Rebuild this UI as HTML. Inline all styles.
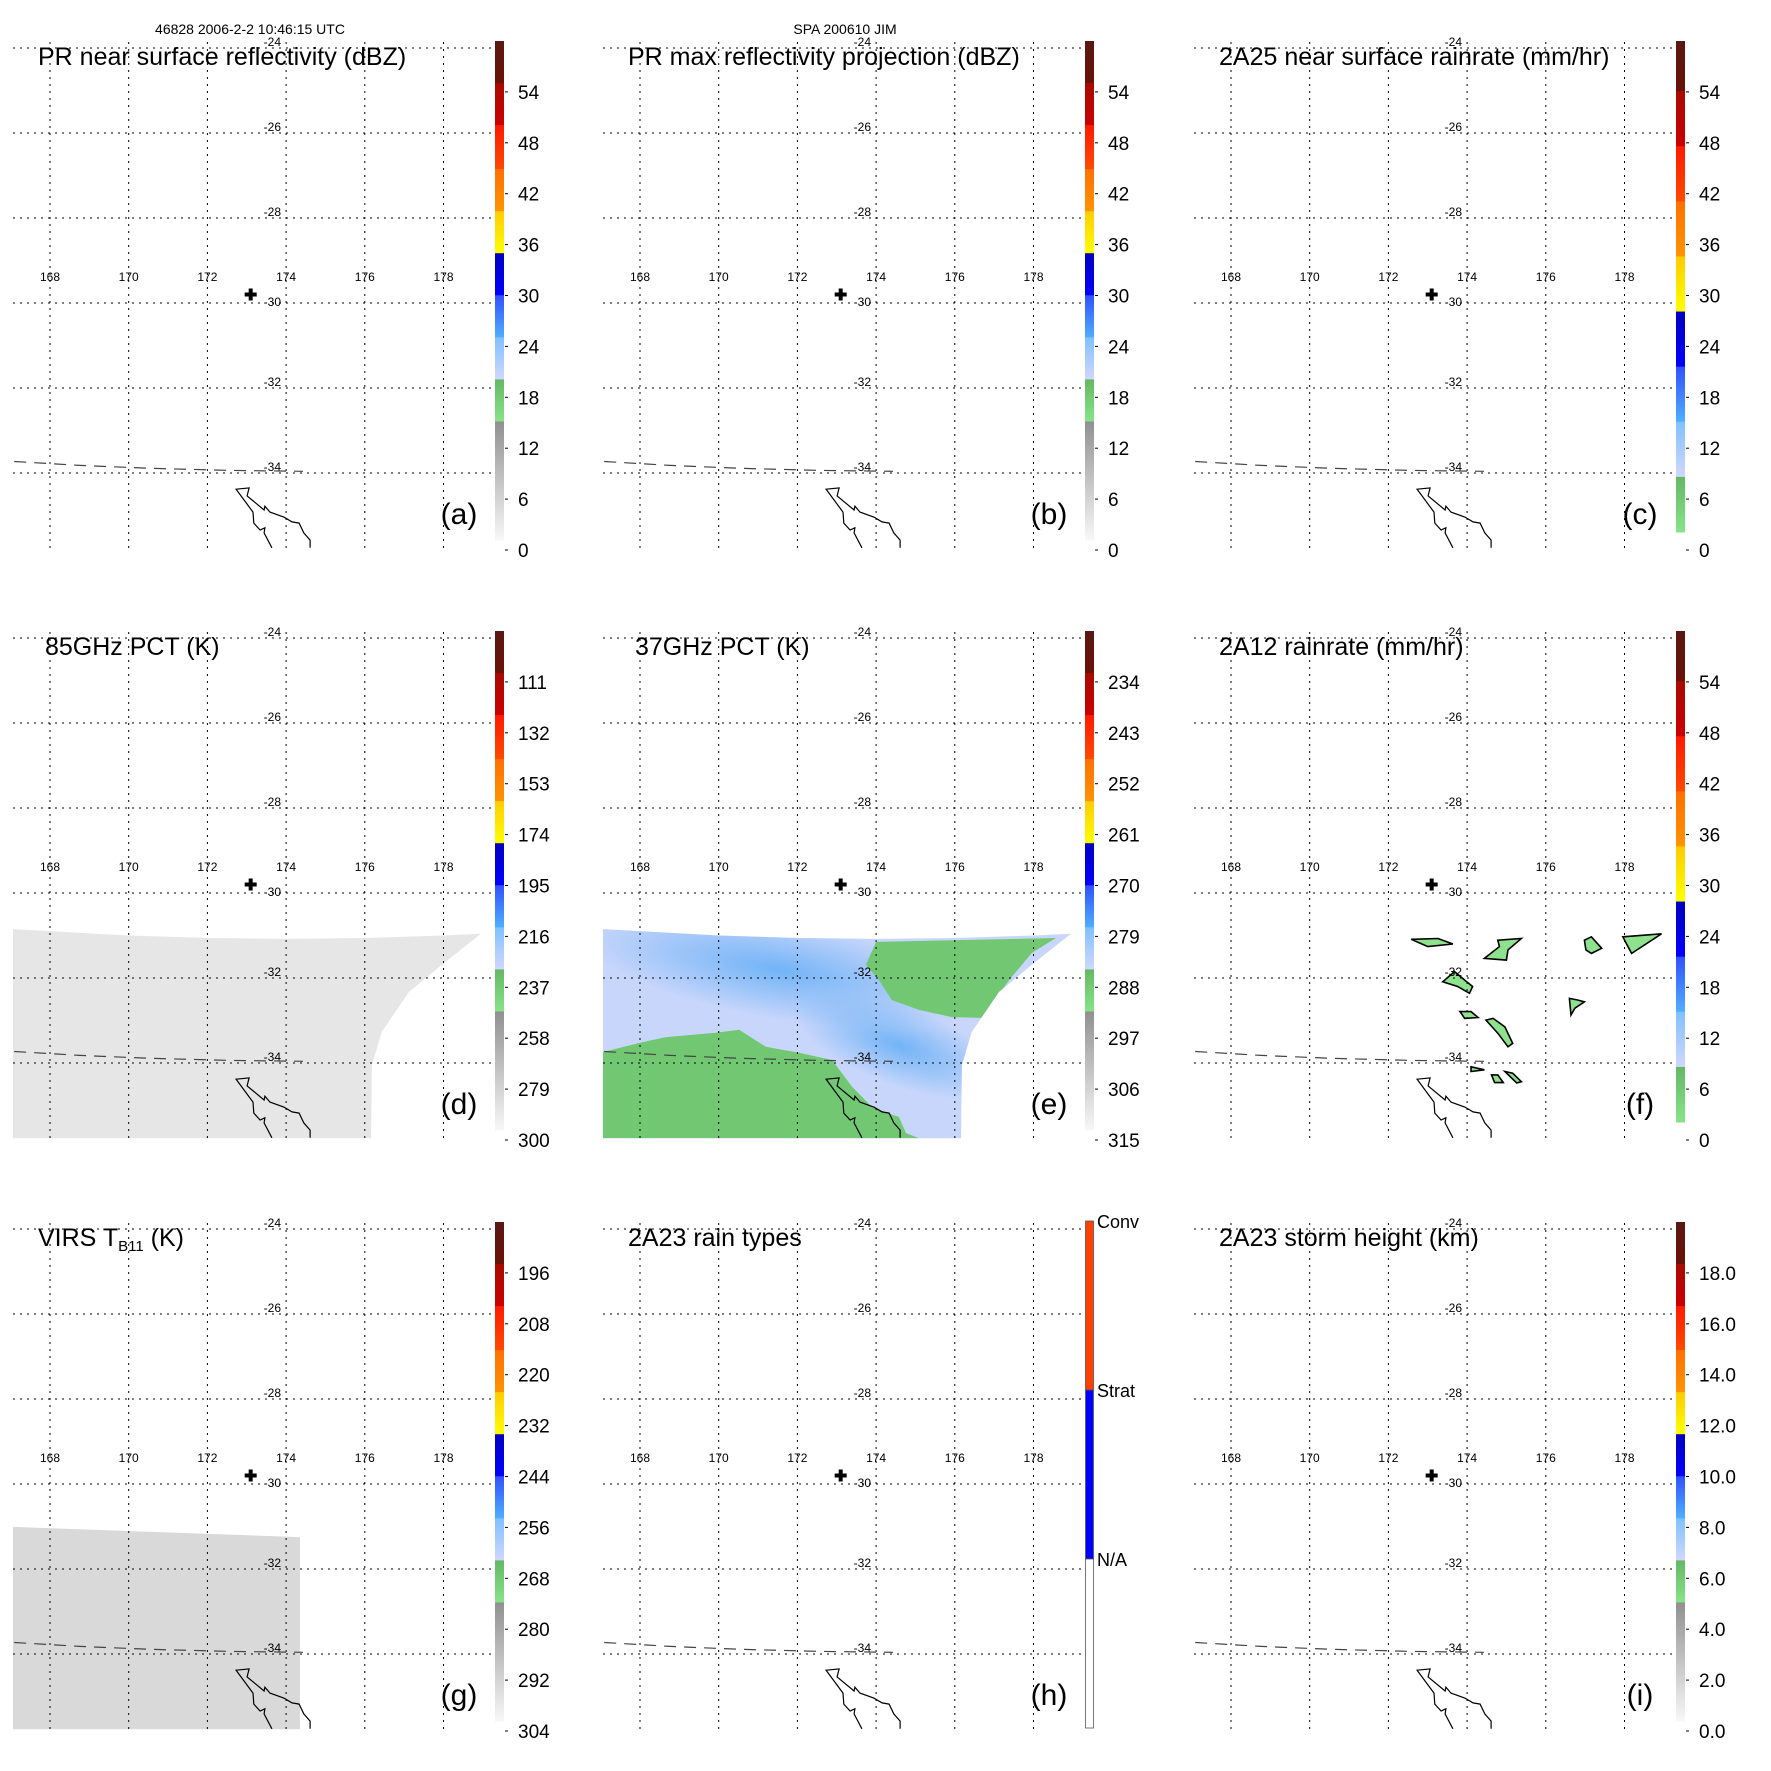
<!DOCTYPE html>
<html><head><meta charset="utf-8">
<style>
html,body{margin:0;padding:0;background:#fff;}
svg{display:block;font-family:"Liberation Sans",Arial,sans-serif;}
</style></head>
<body>
<svg id="fig" width="1771" height="1771" viewBox="0 0 1771 1771" xmlns="http://www.w3.org/2000/svg">
<defs>
<linearGradient id="gBrown" x1="0" y1="0" x2="0" y2="1"><stop offset="0" stop-color="#5a1812"/><stop offset="1" stop-color="#6a1208"/></linearGradient>
<linearGradient id="gDred" x1="0" y1="0" x2="0" y2="1"><stop offset="0" stop-color="#a80a00"/><stop offset="1" stop-color="#cc0000"/></linearGradient>
<linearGradient id="gRed" x1="0" y1="0" x2="0" y2="1"><stop offset="0" stop-color="#ff1a00"/><stop offset="1" stop-color="#ff4a00"/></linearGradient>
<linearGradient id="gOrange" x1="0" y1="0" x2="0" y2="1"><stop offset="0" stop-color="#ff7000"/><stop offset="1" stop-color="#ff9400"/></linearGradient>
<linearGradient id="gYellow" x1="0" y1="0" x2="0" y2="1"><stop offset="0" stop-color="#ffcc00"/><stop offset="1" stop-color="#ffff00"/></linearGradient>
<linearGradient id="gDblue" x1="0" y1="0" x2="0" y2="1"><stop offset="0" stop-color="#0000c0"/><stop offset="1" stop-color="#0000ff"/></linearGradient>
<linearGradient id="gMblue" x1="0" y1="0" x2="0" y2="1"><stop offset="0" stop-color="#3050ff"/><stop offset="1" stop-color="#50b0ff"/></linearGradient>
<linearGradient id="gLblue" x1="0" y1="0" x2="0" y2="1"><stop offset="0" stop-color="#80c0ff"/><stop offset="1" stop-color="#d0d8ff"/></linearGradient>
<linearGradient id="gGreen" x1="0" y1="0" x2="0" y2="1"><stop offset="0" stop-color="#64b864"/><stop offset="1" stop-color="#88e488"/></linearGradient>
<linearGradient id="gGray" x1="0" y1="0" x2="0" y2="1"><stop offset="0" stop-color="#909090"/><stop offset="1" stop-color="#f8f8f8"/></linearGradient>
<radialGradient id="gMidBlueBlob" cx="0.5" cy="0.5" r="0.5"><stop offset="0" stop-color="#6eb2f6" stop-opacity="0.95"/><stop offset="1" stop-color="#6eb2f6" stop-opacity="0"/></radialGradient>
</defs>
<text x="250" y="34" font-size="14" text-anchor="middle">46828 2006-2-2 10:46:15 UTC</text>
<text x="845" y="34" font-size="14" text-anchor="middle">SPA 200610 JIM</text>
</svg>
<script>
// ---- data ----
const lonTicks = [168,170,172,174,176,178];
const latTicks = [-24,-26,-28,-30,-32,-34];
const stormLon = 173.1;
const stormLat = -29.8;
const labelsA = ["54","48","42","36","30","24","18","12","6","0"];
const labelsC = ["54","48","42","36","30","24","18","12","6","0"];
const labelsD = ["111","132","153","174","195","216","237","258","279","300"];
const labelsE = ["234","243","252","261","270","279","288","297","306","315"];
const labelsG = ["196","208","220","232","244","256","268","280","292","304"];
const labelsI = ["18.0","16.0","14.0","12.0","10.0","8.0","6.0","4.0","2.0","0.0"];
const rainTypes = ["Conv","Strat","N/A"];
// swath edge (lon, lat) for microwave panels
const swathLon = [167.06,170.0,172.04,174.0,176.0,178.0,178.95,177.96,177.12,176.43,176.18,176.16,167.06];
const swathLat = [-30.85,-31.0,-31.06,-31.08,-31.06,-31.0,-30.96,-31.69,-32.33,-33.27,-34.05,-35.77,-35.77];
// 37GHz green (low PCT) regions
const greenNELon = [174.0,178.57,177.96,177.38,176.69,175.93,175.09,174.40,174.07,173.74];
const greenNELat = [-31.15,-31.06,-31.41,-32.05,-32.94,-32.92,-32.75,-32.52,-32.05,-31.69];
const greenSWLon = [167.06,167.97,168.66,169.93,170.52,171.20,172.04,172.88,173.39,173.90,174.58,174.76,175.09,167.06];
const greenSWLat = [-33.74,-33.53,-33.39,-33.29,-33.22,-33.62,-33.76,-33.93,-34.56,-35.04,-35.27,-35.65,-35.77,-35.77];
// VIRS cloud box
const virsLon = [167.06,174.35,174.35,167.06];
const virsLat = [-31.01,-31.25,-35.77,-35.77];
// 2A12 rain blobs
const blobsLon = [
 [172.58,173.26,173.64,173.00,172.80],
 [174.44,174.82,174.78,175.38,175.04,175.00],
 [176.98,177.16,177.42,177.16,177.02],
 [177.96,178.94,178.18,178.04],
 [173.38,173.68,173.94,174.14,174.06,173.76],
 [173.82,174.10,174.28,173.94],
 [174.48,174.66,174.96,175.16,175.04,174.78],
 [174.10,174.44,174.10],
 [174.62,174.78,174.92,174.70],
 [174.96,175.16,175.38,175.26],
 [176.60,176.82,176.98,176.74,176.64]
];
const blobsLat = [
 [-31.09,-31.07,-31.20,-31.26,-31.18],
 [-31.54,-31.26,-31.11,-31.07,-31.34,-31.58],
 [-31.11,-31.03,-31.30,-31.42,-31.34],
 [-31.03,-30.96,-31.42,-31.18],
 [-32.09,-31.85,-32.05,-32.20,-32.36,-32.20],
 [-32.79,-32.79,-32.93,-32.95],
 [-32.99,-32.95,-33.15,-33.54,-33.62,-33.30],
 [-34.09,-34.16,-34.20],
 [-34.28,-34.28,-34.46,-34.46],
 [-34.20,-34.24,-34.44,-34.47],
 [-32.48,-32.52,-32.56,-32.71,-32.87]
];
// coastline (Northland NZ)
const coastLon = [173.64,173.44,173.46,173.34,173.18,173.16,172.73,173.06,173.01,173.44,173.46,173.59,173.95,174.15,174.33,174.45,174.61,174.61];
const coastLat = [-35.76,-35.41,-35.29,-35.34,-35.18,-34.92,-34.38,-34.35,-34.54,-34.87,-34.78,-34.92,-35.04,-35.15,-35.18,-35.41,-35.58,-35.76];
// dashed line (date/orbit boundary)
const dashLon = [167.09,168.76,170.54,172.57,174.43];
const dashLat = [-33.73,-33.82,-33.89,-33.94,-33.96];

// ---- geometry ----
const colX = [0,590,1181];
const rowY = [0,590,1181];
const NS = "http://www.w3.org/2000/svg";
const svg = document.getElementById('fig');
function xs(lon){ return 50 + (lon-168)*39.35; }
function ys(lat){ return 48 + (-24-lat)*42.5; }
function mk(tag, attrs, parent){
  const e = document.createElementNS(NS, tag);
  for (const k in attrs) e.setAttribute(k, attrs[k]);
  (parent||svg).appendChild(e);
  return e;
}
function pts(lons, lats){ return lons.map((l,i)=>xs(l).toFixed(1)+','+ys(lats[i]).toFixed(1)).join(' '); }

const bandsA = [["gBrown",110],["gDred",110],["gRed",115],["gOrange",110],["gYellow",110],["gDblue",110],["gMblue",110],["gLblue",110],["gGreen",110],["gGray",310]];
const bandsC = [["gBrown",50],["gDred",55],["gRed",55],["gOrange",55],["gYellow",55],["gDblue",55],["gMblue",55],["gLblue",55],["gGreen",55]];

const panels = [
 {id:"a", title:"PR near surface reflectivity (dBZ)", tx:38, labels:labelsA, bands:bandsA},
 {id:"b", title:"PR max reflectivity projection (dBZ)", tx:38, labels:labelsA, bands:bandsA},
 {id:"c", title:"2A25 near surface rainrate (mm/hr)", tx:38, labels:labelsC, bands:bandsC},
 {id:"d", title:"85GHz PCT (K)", tx:45, labels:labelsD, bands:bandsA},
 {id:"e", title:"37GHz PCT (K)", tx:45, labels:labelsE, bands:bandsA},
 {id:"f", title:"2A12 rainrate (mm/hr)", tx:38, labels:labelsC, bands:bandsC},
 {id:"g", title:"VIRS", tx:38, labels:labelsG, bands:bandsA},
 {id:"h", title:"2A23 rain types", tx:38, labels:null, bands:null},
 {id:"i", title:"2A23 storm height (km)", tx:38, labels:labelsI, bands:bandsA}
];

panels.forEach((p, idx) => {
  const g = mk('g', {transform:`translate(${colX[idx%3]},${rowY[Math.floor(idx/3)]})`});
  
  

  if (p.id === 'd' || p.id === 'e') {
    const sw = mk('polygon', {points: pts(swathLon, swathLat), fill: p.id==='d' ? '#e6e6e6' : '#c8d6fb'}, g);
    
    
    if (p.id === 'e') {
      const cp = mk('clipPath', {id:'swclip'}, g);
      mk('polygon', {points: pts(swathLon, swathLat)}, cp);
      const bg = mk('g', {'clip-path':'url(#swclip)'}, g);
      const b1 = mk('ellipse', {cx: xs(171.5), cy: ys(-31.8), rx: 200, ry: 50, fill:'url(#gMidBlueBlob)', transform:`rotate(10 ${xs(171.5)} ${ys(-31.8)})`}, bg);
      
      
      const b2 = mk('ellipse', {cx: xs(174.6), cy: ys(-33.6), rx: 110, ry: 40, fill:'url(#gMidBlueBlob)', transform:`rotate(20 ${xs(174.6)} ${ys(-33.6)})`}, bg);
      
      
      const gn = mk('polygon', {points: pts(greenNELon, greenNELat), fill:'#72c872'}, bg);
      
      
      const gs = mk('polygon', {points: pts(greenSWLon, greenSWLat), fill:'#72c872'}, bg);
      
      
    }
  }
  if (p.id === 'g') {
    const vb = mk('polygon', {points: pts(virsLon, virsLat), fill:'#d9d9d9'}, g);
    
    
  }
  if (p.id === 'f') {
    blobsLon.forEach((bl, bi) => {
      const b = mk('polygon', {points: pts(bl, blobsLat[bi]), fill:'#8ee28e', stroke:'#000', 'stroke-width':1.6}, g);
      
      
    });
  }

  latTicks.forEach(lat => {
    const l = mk('line', {x1:13, x2:494, y1:ys(lat), y2:ys(lat), stroke:'#000', 'stroke-width':1, 'stroke-dasharray':'2 5'}, g);
    
    
    if (lat !== -30) {
      const t = mk('text', {x:281, y:ys(lat)-2, 'font-size':12, 'text-anchor':'end'}, g);
      t.textContent = String(lat);
      
      
    }
  });
  lonTicks.forEach(lon => {
    const l = mk('line', {x1:xs(lon), x2:xs(lon), y1:42, y2:549, stroke:'#000', 'stroke-width':1, 'stroke-dasharray':'2 5'}, g);
    
    
    const t = mk('text', {x:xs(lon), y:281, 'font-size':12, 'text-anchor':'middle'}, g);
    t.textContent = String(lon);
    
    
  });
  const t30 = mk('text', {x:281, y:ys(-30)+3, 'font-size':12, 'text-anchor':'end'}, g);
  t30.textContent = '-30';
  
  

  const dl = mk('polyline', {points: pts(dashLon, dashLat), fill:'none', stroke:'#444', 'stroke-width':1.2, 'stroke-dasharray':'12 8'}, g);
  
  

  const cl = mk('polyline', {points: pts(coastLon, coastLat), fill:'none', stroke:'#000', 'stroke-width':1.2}, g);
  
  

  const sx = xs(stormLon), sy = ys(stormLat);
  const sm = mk('path', {d:`M${sx-6},${sy-2}h12v4h-12z M${sx-2},${sy-6}h4v12h-4z`, fill:'#000'}, g);
  
  

  const tt = mk('text', {x:p.tx, y:65, 'font-size':25}, g);
  
  
  if (p.id === 'g') {
    tt.textContent = 'VIRS T';
    const sub = mk('tspan', {'font-size':15, dy:5}, tt);
    sub.textContent = 'B11';
    const rest = mk('tspan', {dy:-5}, tt);
    rest.textContent = ' (K)';
  } else {
    tt.textContent = p.title;
  }

  const pl = mk('text', {x:459, y:524, 'font-size':30, 'text-anchor':'middle'}, g);
  pl.textContent = '(' + p.id + ')';
  
  

  const cb = mk('g', {}, g);
  
  
  if (p.bands) {
    const sum = p.bands.reduce((s,b)=>s+b[1],0);
    let y = 41;
    const scaleH = (p.bands === bandsC) ? 491 : 499;
    p.bands.forEach(b => {
      const h = b[1]/sum*scaleH;
      const r = mk('rect', {x:495, y:y, width:9, height:h+0.5, fill:`url(#${b[0]})`}, cb);
      
      
      y += h;
    });
    p.labels.forEach((lab, i) => {
      const ly = 557 - (p.labels.length-1-i)*50.9;
      const tk = mk('line', {x1:505, x2:508, y1:ly-7, y2:ly-7, stroke:'#000', 'stroke-width':1}, cb);
      
      
      const t = mk('text', {x:518, y:ly, 'font-size':19}, cb);
      t.textContent = lab;
      
      
    });
  } else {
    const segs = [["#ff4000",40,209],["#0000ff",209,378],["#ffffff",378,547]];
    segs.forEach(s => {
      const r = mk('rect', {x:495.5, y:s[1], width:8, height:s[2]-s[1], fill:s[0], stroke:'#555', 'stroke-width':0.8}, cb);
      
      
    });
    rainTypes.forEach((lab, i) => {
      const t = mk('text', {x:507, y:[47,216,385][i], 'font-size':18}, cb);
      t.textContent = lab;
      
      
    });
  }
});
</script>
</body></html>
